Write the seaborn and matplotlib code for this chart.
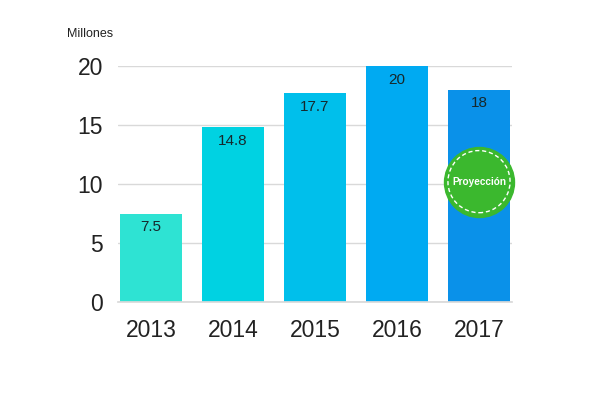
import pandas as pd
import matplotlib.pyplot as plt
import seaborn as sns

years = ["2013", "2014", "2015", "2016", "2017"]
values = [7.5, 14.8, 17.7, 20, 18]
value_labels = ["7.5", "14.8", "17.7", "20", "18"]
bar_colors = ["#2ee3d3", "#00d2e2", "#00bfeb", "#00aaf2", "#0a91e9"]
yticks = [0, 5, 10, 15, 20]
projection_year = "2017"
projection_text = "Proyección"

sns.set_theme(style="white")
plt.rcParams['font.family'] = ['Liberation Sans', 'DejaVu Sans']

df = pd.DataFrame({"year": years, "value": values})

fig = plt.figure(figsize=(6, 4), dpi=100)
ax = fig.add_axes([0.197, 0.245, 0.656, 0.59])

sns.barplot(data=df, x="year", y="value", hue="year", palette=bar_colors,
            saturation=1, legend=False, width=0.76, ax=ax, zorder=2)
for p in ax.patches:
    p.set_edgecolor("none")

# value labels inside the bars
for i, (v, lab) in enumerate(zip(values, value_labels)):
    ax.annotate(lab, (i, v), xytext=(0, -10), textcoords="offset points",
                ha="center", va="center", fontsize=11, color="#16282c", zorder=4)

# projection badge on the last bar
px = years.index(projection_year)
ax.scatter([px], [10.2], s=2540, color="#3bb82e", zorder=5, clip_on=False)
ax.scatter([px], [10.2], s=2000, facecolors="none", edgecolors="white",
           linewidths=1, linestyle=(0, (3, 2)), zorder=6, clip_on=False)
ax.text(px, 10.2, projection_text, ha="center", va="center", fontsize=7.2,
        fontweight="bold", color="white", zorder=7)

ax.set_ylim(0, 20)
ax.set_xlim(-0.4, 4.4)
ax.set_yticks(yticks)
ax.yaxis.grid(True, color="#d9d9d9", linewidth=1)
ax.set_axisbelow(True)
ax.set_xlabel("")
ax.set_ylabel("")
ax.tick_params(axis="both", length=0, labelsize=16.5, colors="#222222")
ax.tick_params(axis="y", pad=11)
ax.tick_params(axis="x", pad=12)
for s in ["top", "right", "left"]:
    ax.spines[s].set_visible(False)
ax.spines["bottom"].set_color("#d9d9d9")

fig.text(67 / 600, 1 - 34 / 400, "Millones", fontsize=9, color="#222222",
         ha="left", va="center")

fig.savefig("out.png", dpi=100, facecolor="white")
